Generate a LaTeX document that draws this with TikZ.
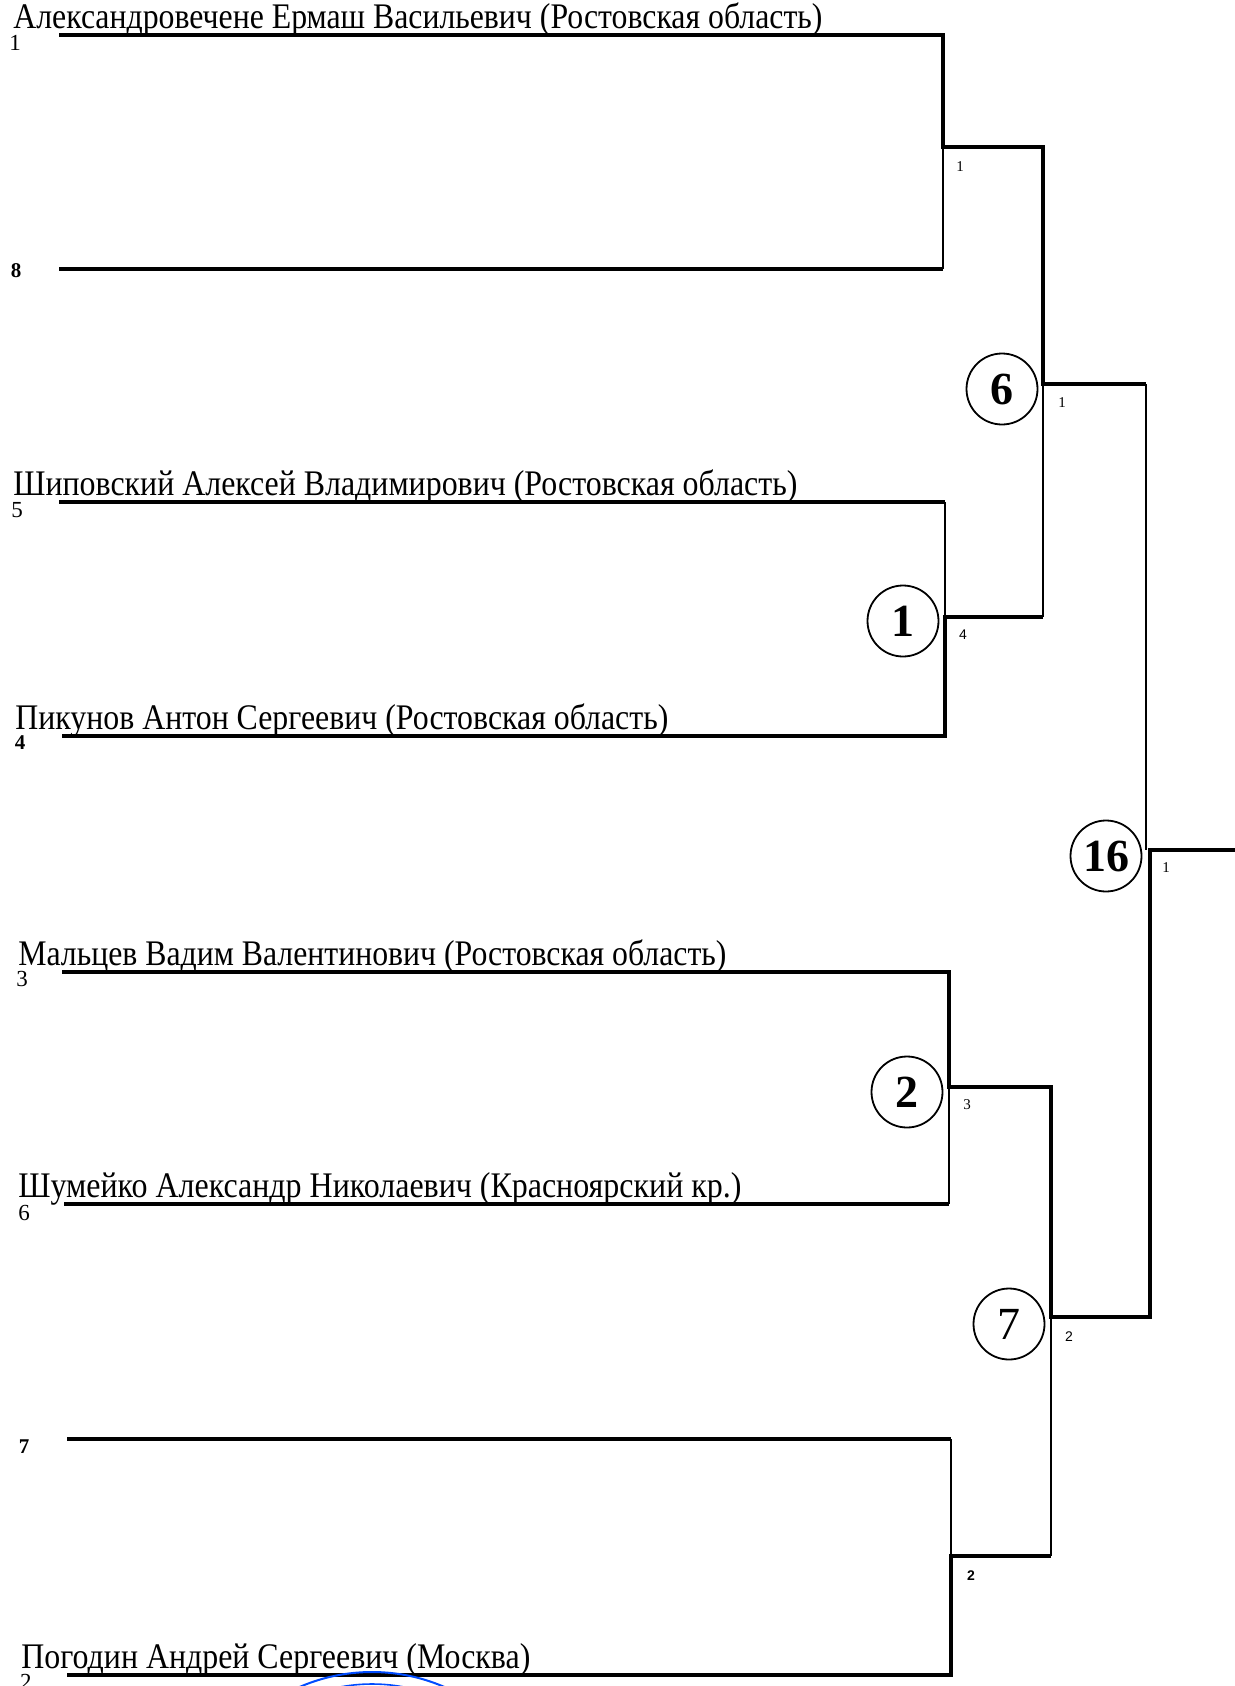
\documentclass[tikz,border=0pt]{standalone}
\usepackage{fontspec}
\setmainfont{Liberation Serif}
\newfontfamily\labsans{Liberation Sans}
\usepackage{graphicx}
\begin{document}
\begin{tikzpicture}[x=0.5pt,y=-0.5pt,
  thickline/.style={line width=2pt, line join=miter},
  thinline/.style={line width=0.75pt},
  namelbl/.style={anchor=base west, inner sep=0pt, font=\fontsize{18}{18}\selectfont},
  seedlbl/.style={anchor=center, inner sep=0pt, font=\fontsize{11.5}{11.5}\selectfont},
  seedbold/.style={seedlbl, font=\bfseries\fontsize{10.5}{10.5}\selectfont},
  circnum/.style={circle, draw, line width=0.9pt, minimum size=35.5pt, inner sep=0pt, font=\bfseries\fontsize{23}{23}\selectfont},
  smalllbl/.style={anchor=center, inner sep=0pt, font=\fontsize{7.5}{7.5}\selectfont},
  smallsans/.style={anchor=center, inner sep=0pt, font=\labsans\fontsize{7}{7}\selectfont}
]
\useasboundingbox (0,0) rectangle (1235,1686);
\fill[white] (0,0) rectangle (1235,1686);

% coordinates
\coordinate (e1s) at (59,35.5);  \coordinate (e1e) at (943,35.5);
\coordinate (e8s) at (59,269);   \coordinate (e8e) at (943,269);
\coordinate (j1) at (943,147);   \coordinate (j1r) at (1043,147);
\coordinate (e5s) at (59,502);   \coordinate (e5e) at (945,502);
\coordinate (e4s) at (62,736);   \coordinate (e4e) at (945,736);
\coordinate (j2) at (945,617);   \coordinate (j2r) at (1043,617);
\coordinate (j6) at (1043,384);  \coordinate (j6r) at (1146,384);
\coordinate (e3s) at (62,972);   \coordinate (e3e) at (949,972);
\coordinate (e6s) at (64,1204);  \coordinate (e6e) at (949,1204);
\coordinate (j3) at (949,1087);  \coordinate (j3r) at (1051,1087);
\coordinate (e7s) at (67,1439);  \coordinate (e7e) at (951,1439);
\coordinate (e2s) at (67,1675);  \coordinate (e2e) at (951,1675);
\coordinate (j4) at (951,1556);  \coordinate (j4r) at (1051,1556);
\coordinate (j7) at (1051,1317); \coordinate (j7r) at (1150,1317);
\coordinate (j16t) at (1146,850); \coordinate (j16) at (1150,850); \coordinate (fin) at (1235,850);

% thick lines
\draw[thickline] (e1s) -- (e1e) -- (j1) -- (j1r) -- (j6) -- (j6r);
\draw[thickline] (e8s) -- (e8e);
\draw[thickline] (e5s) -- (e5e);
\draw[thickline] (e4s) -- (e4e) -- (j2) -- (j2r);
\draw[thickline] (e3s) -- (e3e) -- (j3) -- (j3r) -- (j7) -- (j7r) -- (j16) -- (fin);
\draw[thickline] (e6s) -- (e6e);
\draw[thickline] (e7s) -- (e7e);
\draw[thickline] (e2s) -- (e2e) -- (j4) -- (j4r);
% thin lines
\draw[thinline] (j1) -- (e8e);
\draw[thinline] (e5e) -- (j2);
\draw[thinline] (j2r) -- (j6);
\draw[thinline] (j6r) -- (j16t);
\draw[thinline] (j3) -- (e6e);
\draw[thinline] (e7e) -- (j4);
\draw[thinline] (j4r) -- (j7);

% names
\node[namelbl] (n1) at (13,29) {\resizebox{404.5pt}{\height}{Александровечене Ермаш Васильевич (Ростовская область)}};
\node[namelbl] (n5) at (13,495) {\resizebox{392pt}{\height}{Шиповский Алексей Владимирович (Ростовская область)}};
\node[namelbl] (n4) at (15,729) {\resizebox{326.5pt}{\height}{Пикунов Антон Сергеевич (Ростовская область)}};
\node[namelbl] (n3) at (18,965) {\resizebox{354pt}{\height}{Мальцев Вадим Валентинович (Ростовская область)}};
\node[namelbl] (n6) at (18,1197) {\resizebox{361.5pt}{\height}{Шумейко Александр Николаевич (Красноярский кр.)}};
\node[namelbl] (n2) at (21,1668) {\resizebox{254.5pt}{\height}{Погодин Андрей Сергеевич (Москва)}};

% seeds
\node[seedlbl] (s1) at (15,43) {1};
\node[seedbold] (s8) at (16,271) {8};
\node[seedlbl] (s5) at (17,510) {5};
\node[seedbold] (s4) at (20,743) {4};
\node[seedlbl] (s3) at (22,979) {3};
\node[seedlbl] (s6) at (24,1213) {6};
\node[seedbold] (s7) at (24,1447) {7};
\node[seedlbl] (s2) at (26,1682) {2};

% circles
\node[circnum] (c6) at (1002,389) {6};
\node[circnum] (c1) at (903,621) {1};
\node[circnum] (c16) at (1106,856) {16};
\node[circnum] (c2) at (907,1092) {2};
\node[circnum, font=\fontsize{23}{23}\selectfont] (c7) at (1009,1324) {7};

% small round labels
\node[smalllbl] (w1) at (960,167) {1};
\node[smalllbl] (w6) at (1062,403) {1};
\node[smallsans] (w4) at (963,635) {4};
\node[smalllbl] (w16) at (1166,868) {1};
\node[smalllbl] (w3) at (967,1105) {3};
\node[smallsans] (w7) at (1069,1337) {2};
\node[smallsans, font=\labsans\bfseries\fontsize{7}{7}\selectfont] (w2) at (971,1576) {2};

% stamp fragment
\draw[blue!70!cyan, line width=1pt] (372,1854) circle[radius=182];
\draw[blue!70!cyan, line width=0.8pt] (372,1854) circle[radius=170];
\end{tikzpicture}
\end{document}
